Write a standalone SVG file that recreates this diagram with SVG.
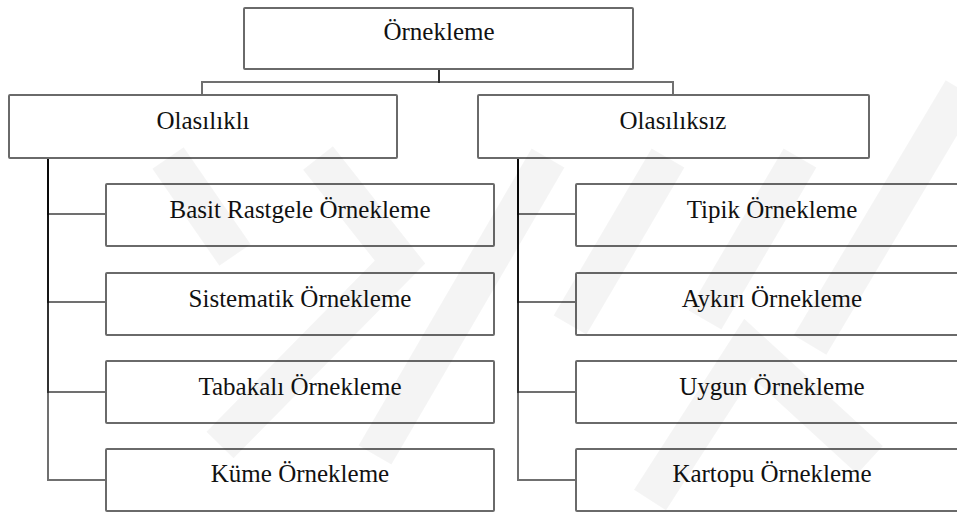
<svg xmlns="http://www.w3.org/2000/svg" width="957" height="516" viewBox="0 0 957 516">
  <style>
    .box { fill: #ffffff; stroke: #6a6a6a; stroke-width: 2; }
    .lbl { font-family: 'Liberation Serif', serif; font-size: 25px; fill: #111111; text-anchor: middle; }
    .edge { fill: none; stroke: #000000; stroke-opacity: 0.56; stroke-width: 2; }
    .mark { fill: none; stroke: #000000; stroke-opacity: 0.045; stroke-width: 38; stroke-linecap: butt; stroke-linejoin: miter; }
  </style>
  <rect width="957" height="516" fill="#ffffff"/>

  <!-- connectors: elbow lines from each parent to its children -->
  <g id="connectors">
    <path class="edge" d="M439,69 V82 H202 V95"/>
    <path class="edge" d="M439,69 V82 H673 V95"/>
    <path class="edge" d="M48,158 V214 H106"/>
    <path class="edge" d="M48,158 V302 H106"/>
    <path class="edge" d="M48,158 V392 H106"/>
    <path class="edge" d="M48,158 V480 H106"/>
    <path class="edge" d="M518,158 V214 H576"/>
    <path class="edge" d="M518,158 V302 H576"/>
    <path class="edge" d="M518,158 V392 H576"/>
    <path class="edge" d="M518,158 V480 H576"/>
  </g>

  <g id="root">
    <rect class="box" x="244" y="8" width="389" height="61" rx="1"/>
    <text class="lbl" x="439" y="40">Örnekleme</text>
  </g>

  <g id="probability">
    <rect class="box" x="9" y="95" width="388" height="63" rx="1"/>
    <text class="lbl" x="203" y="129">Olasılıklı</text>
  </g>
  <g id="non-probability">
    <rect class="box" x="478" y="95" width="391" height="63" rx="1"/>
    <text class="lbl" x="673" y="129">Olasılıksız</text>
  </g>

  <g id="simple-random">
    <rect class="box" x="106" y="184" width="388" height="62" rx="1"/>
    <text class="lbl" x="300" y="218">Basit Rastgele Örnekleme</text>
  </g>
  <g id="systematic">
    <rect class="box" x="106" y="273" width="388" height="62" rx="1"/>
    <text class="lbl" x="300" y="307">Sistematik Örnekleme</text>
  </g>
  <g id="stratified">
    <rect class="box" x="106" y="361" width="388" height="62" rx="1"/>
    <text class="lbl" x="300" y="395">Tabakalı Örnekleme</text>
  </g>
  <g id="cluster">
    <rect class="box" x="106" y="449" width="388" height="62" rx="1"/>
    <text class="lbl" x="300" y="482">Küme Örnekleme</text>
  </g>

  <g id="typical">
    <rect class="box" x="576" y="184" width="392" height="62" rx="1"/>
    <text class="lbl" x="772" y="218">Tipik Örnekleme</text>
  </g>
  <g id="deviant">
    <rect class="box" x="576" y="273" width="392" height="62" rx="1"/>
    <text class="lbl" x="772" y="307">Aykırı Örnekleme</text>
  </g>
  <g id="convenience">
    <rect class="box" x="576" y="361" width="392" height="62" rx="1"/>
    <text class="lbl" x="772" y="395">Uygun Örnekleme</text>
  </g>
  <g id="snowball">
    <rect class="box" x="576" y="449" width="392" height="62" rx="1"/>
    <text class="lbl" x="772" y="482">Kartopu Örnekleme</text>
  </g>

  <!-- faint diagonal background stripes laid over the page -->
  <g id="stripes">
    <path class="mark" d="M168,158 L235,255"/>
    <path class="mark" d="M318,158 L400,262 L220,445"/>
    <path class="mark" d="M548,158 L375,455"/>
    <path class="mark" d="M668,158 L570,325"/>
    <path class="mark" d="M650,500 L748,348 L870,460"/>
    <path class="mark" d="M800,158 L705,320"/>
    <path class="mark" d="M962,90 L810,345"/>
  </g>
</svg>
